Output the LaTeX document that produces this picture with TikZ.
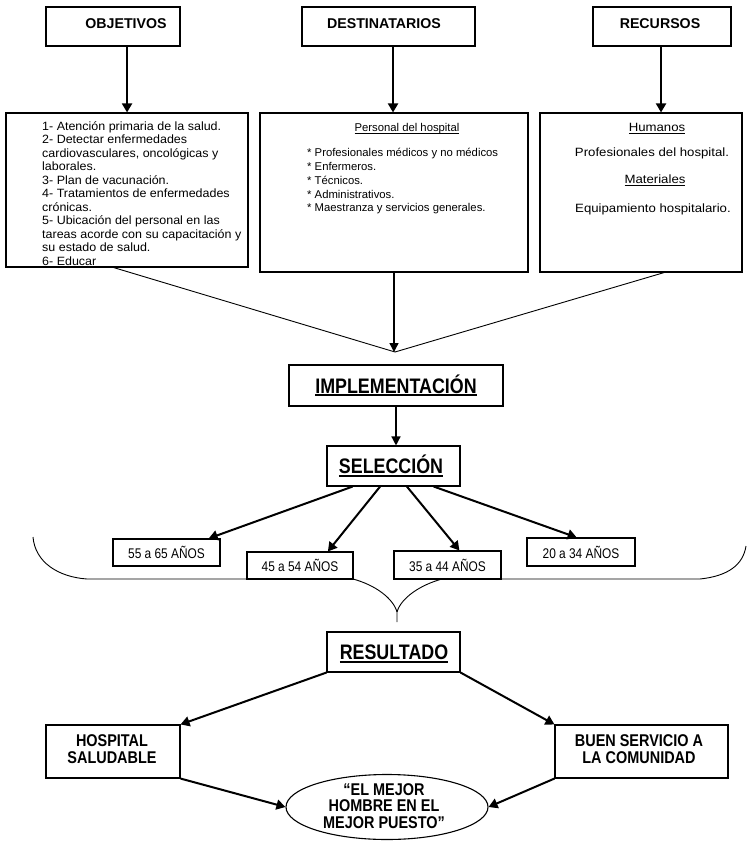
\documentclass[tikz,border=0pt]{standalone}
\usepackage{fontspec}
\setmainfont{Liberation Sans}
\newfontfamily\narfont[FakeStretch=0.85]{Liberation Sans}
\newfontfamily\widefont[FakeStretch=1.1]{Liberation Sans}
\newfontfamily\lwidefont[FakeStretch=1.04]{Liberation Sans}
\usetikzlibrary{arrows.meta,calc,shapes.geometric}
\newcommand{\bigul}[1]{\setbox0=\hbox{#1}\rlap{\rule[-3.3pt]{\wd0}{2.2pt}}\box0}
\newcommand{\smul}[1]{\setbox0=\hbox{#1}\rlap{\rule[-2pt]{\wd0}{0.8pt}}\box0}
\newcommand{\stackl}[2]{\vtop{\baselineskip=#1\relax\lineskiplimit=-100pt\lineskip=0pt #2}}
\begin{document}
\begin{tikzpicture}[x=1pt,y=-1pt,
  box/.style={draw, line width=1.1pt, inner sep=0},
  tx/.style={inner sep=0},
  hdr/.style={tx, font=\fontsize{14.2}{16}\selectfont\bfseries},
  body/.style={tx, font=\fontsize{11.3}{12.9}\selectfont},
  wbody/.style={tx, font=\widefont\fontsize{12}{13.5}\selectfont},
  lbody/.style={tx, font=\lwidefont\fontsize{12}{13.5}\selectfont},
  big/.style={tx, font=\narfont\bfseries\fontsize{21}{24}\selectfont},
  age/.style={tx, font=\narfont\fontsize{14}{16}\selectfont},
  res/.style={tx, font=\narfont\bfseries\fontsize{17}{17.5}\selectfont, align=center},
  thk/.style={line width=2pt, -{Triangle[length=9pt,width=10pt]}},
  mida/.style={line width=1.4pt, -{Triangle[length=9pt,width=9pt]}},
  thn/.style={line width=0.9pt}]
\useasboundingbox (0,0) rectangle (747,842);
% top boxes
\node[box, minimum width=134, minimum height=39] (obj) at (113,26.5) {};
\node[hdr, anchor=base] (objt) at (126,28.5) {OBJETIVOS};
\node[box, minimum width=173, minimum height=39] (dest) at (388.5,26.5) {};
\node[hdr, anchor=base] (destt) at (384,28.5) {DESTINATARIOS};
\node[box, minimum width=138, minimum height=39] (rec) at (662,26.5) {};
\node[hdr, anchor=base] (rect) at (660,28.5) {RECURSOS};
% second row boxes
\node[box, minimum width=242, minimum height=154] (lb) at (127,190) {};
\node[box, minimum width=268, minimum height=159] (mb) at (394,192.5) {};
\node[box, minimum width=202, minimum height=159] (rb) at (641,192.5) {};
\node[lbody, anchor=base west] (lbt) at (42,130.5) {\stackl{13.5pt}{%
\hbox{1- Atención primaria de la salud.}%
\hbox{2- Detectar enfermedades}%
\hbox{cardiovasculares, oncológicas y}%
\hbox{laborales.}%
\hbox{3- Plan de vacunación.}%
\hbox{4- Tratamientos de enfermedades}%
\hbox{crónicas.}%
\hbox{5- Ubicación del personal en las}%
\hbox{tareas acorde con su capacitación y}%
\hbox{su estado de salud.}%
\hbox{6- Educar}}};
\node[body, anchor=base] (mbh) at (407,132) {\smul{Personal del hospital}};
\node[body, anchor=base west] (mbt) at (307,157) {\stackl{13.7pt}{%
\hbox{* Profesionales médicos y no médicos}%
\hbox{* Enfermeros.}%
\hbox{* Técnicos.}%
\hbox{* Administrativos.}%
\hbox{* Maestranza y servicios generales.}}};
\node[wbody, anchor=base] (rb1) at (657,132) {\smul{Humanos}};
\node[wbody, anchor=base] (rb2) at (652,157) {Profesionales del hospital.};
\node[wbody, anchor=base] (rb3) at (655,184) {\smul{Materiales}};
\node[wbody, anchor=base] (rb4) at (653,212) {Equipamiento hospitalario.};
% arrows top
\coordinate (o1) at ($(obj.south west)!0.604!(obj.south east)$);
\coordinate (d1) at ($(dest.south west)!0.526!(dest.south east)$);
\coordinate (r1) at ($(rec.south west)!0.493!(rec.south east)$);
\draw[thk] (o1) -- (o1 |- lb.north);
\draw[thk] (d1) -- (d1 |- mb.north);
\draw[thk] (r1) -- (r1 |- rb.north);
% converging
\coordinate (conv) at (395,352);
\coordinate (l2) at ($(lb.south west)!0.445!(lb.south east)$);
\coordinate (m2) at ($(mb.south west)!0.5!(mb.south east)$);
\coordinate (r2) at ($(rb.south west)!0.614!(rb.south east)$);
\draw[thn] (l2) -- (conv);
\draw[thn] (r2) -- (conv);
\draw[mida] (m2) -- (m2 |- conv);
% implementacion / seleccion
\node[box, minimum width=214, minimum height=41] (impl) at (396,385.5) {};
\node[big, anchor=base] (implt) at (396,393) {\bigul{IMPLEMENTACIÓN}};
\node[box, minimum width=133, minimum height=40] (sel) at (393.5,466) {};
\node[big, anchor=base] (selt) at (391,473.5) {\bigul{SELECCIÓN}};
\draw[mida] (impl.south) -- (impl.south |- sel.north);
% brace
\draw[line width=0.9pt] (33,537) .. controls (35,562) and (58,577) .. (87,579) -- (353,579)
  .. controls (375,585) and (393,598) .. (397,612) -- (397,622);
\draw[line width=0.9pt] (397,612) .. controls (401,598) and (420,585) .. (442,579) -- (700,579)
  .. controls (728,576) and (743,565) .. (746,546);
% age boxes
\node[box, fill=white, minimum width=107, minimum height=27] (a55) at (166.5,552.5) {};
\node[age] (a55t) at (a55) {55 a 65 AÑOS};
\node[box, fill=white, minimum width=106, minimum height=27] (a45) at (300,565.5) {};
\node[age] (a45t) at (a45) {45 a 54 AÑOS};
\node[box, fill=white, minimum width=107, minimum height=28] (a35) at (447.5,565) {};
\node[age] (a35t) at (a35) {35 a 44 AÑOS};
\node[box, fill=white, minimum width=108, minimum height=28] (a20) at (581,552) {};
\node[age] (a20t) at (a20) {20 a 34 AÑOS};
\draw[thk] ($(sel.south west)!0.195!(sel.south east)$) -- ($(a55.north west)!0.89!(a55.north east)$);
\draw[thk] ($(sel.south west)!0.40!(sel.south east)$) -- ($(a45.north west)!0.76!(a45.north east)$);
\draw[thk] ($(sel.south west)!0.60!(sel.south east)$) -- ($(a35.north west)!0.61!(a35.north east)$);
\draw[thk] ($(sel.south west)!0.80!(sel.south east)$) -- ($(a20.north west)!0.46!(a20.north east)$);
% resultado
\node[box, minimum width=133, minimum height=40] (res) at (393.5,652) {};
\node[big, anchor=base] (rest) at (394,659.5) {\bigul{RESULTADO}};
\node[box, minimum width=134, minimum height=53] (hs) at (113,751.5) {};
\node[res] (hst) at (112,749) {HOSPITAL\\SALUDABLE};
\node[box, minimum width=173, minimum height=53] (bs) at (641.5,751.5) {};
\node[res] (bst) at (639,749) {BUEN SERVICIO A\\LA COMUNIDAD};
\node[draw, ellipse, line width=1.1pt, inner sep=0, minimum width=202, minimum height=65] (el) at (387,807) {};
\node[res, font=\narfont\bfseries\fontsize{17}{16.5}\selectfont] (elt) at (384,806) {“EL MEJOR\\HOMBRE EN EL\\MEJOR PUESTO”};
\draw[thk] (res.south west) -- (hs.north east);
\draw[thk] (res.south east) -- (bs.north west);
\draw[thk] (hs.south east) -- (el.west);
\draw[thk] (bs.south west) -- (el.east);
\end{tikzpicture}
\end{document}
